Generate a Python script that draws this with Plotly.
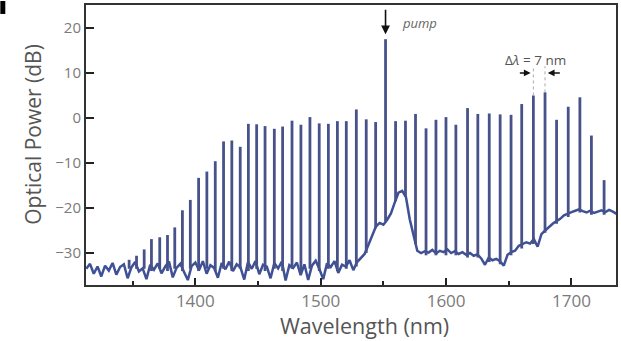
import plotly.graph_objects as go

# ---------------- data ----------------
# noisy background spectrum, sampled every 3 nm
base_wl = [1313, 1316, 1319, 1322, 1325, 1328, 1331, 1334, 1337, 1340,
           1343, 1346, 1349, 1352, 1355, 1358, 1361, 1364, 1367, 1370,
           1373, 1376, 1379, 1382, 1385, 1388, 1391, 1394, 1397, 1400,
           1403, 1406, 1409, 1412, 1415, 1418, 1421, 1424, 1427, 1430,
           1433, 1436, 1439, 1442, 1445, 1448, 1451, 1454, 1457, 1460,
           1463, 1466, 1469, 1472, 1475, 1478, 1481, 1484, 1487, 1490,
           1493, 1496, 1499, 1502, 1505, 1508, 1511, 1514, 1517, 1520,
           1523, 1526, 1529, 1532, 1535, 1538, 1541, 1544, 1547, 1550,
           1553, 1556, 1559, 1562, 1565, 1568, 1571, 1574, 1577, 1580,
           1583, 1586, 1589, 1592, 1595, 1598, 1601, 1604, 1607, 1610,
           1613, 1616, 1619, 1622, 1625, 1628, 1631, 1634, 1637, 1640,
           1643, 1646, 1649, 1652, 1655, 1658, 1661, 1664, 1667, 1670,
           1673, 1676, 1679, 1682, 1685, 1688, 1691, 1694, 1697, 1700,
           1703, 1706, 1709, 1712, 1715, 1718, 1721, 1724, 1727, 1730, 1733, 1736]
base_db = [-33.5, -32.4, -34.6, -33.0, -35.2, -32.8, -33.9, -32.2, -34.8, -33.1,
           -32.5, -35.6, -33.2, -32.0, -34.1, -33.4, -35.8, -32.6, -33.7, -32.3,
           -34.5, -33.0, -31.9, -35.4, -33.3, -32.4, -34.2, -36.0, -32.9, -32.1,
           -33.8, -31.8, -34.6, -32.7, -33.3, -35.5, -32.2, -33.6, -31.9, -34.0,
           -32.5, -33.2, -35.9, -32.0, -33.5, -31.8, -34.7, -32.6, -33.0, -35.6,
           -32.2, -33.4, -31.9, -36.1, -32.7, -33.3, -32.1, -34.9, -32.5, -36.0,
           -32.8, -31.7, -33.6, -35.8, -32.3, -33.1, -31.8, -34.4, -32.6, -33.0,
           -31.6, -33.8, -32.0, -31.2, -30.2, -28.2, -26.0, -24.1, -23.3, -23.7,
           -22.6, -21.2, -18.8, -16.6, -16.2, -17.6, -22.5, -25.8, -29.5, -30.0,
           -29.6, -29.9, -29.3, -30.1, -29.5, -29.8, -29.2, -30.0, -29.6, -30.2,
           -29.8, -30.4, -30.0, -30.6, -30.3, -31.2, -32.6, -31.0, -31.6, -31.3,
           -31.8, -32.8, -30.4, -29.8, -29.5, -28.4, -28.0, -27.6, -27.9, -26.9,
           -28.6, -25.8, -25.0, -24.2, -23.5, -22.9, -22.4, -21.6, -21.2, -20.9,
           -20.6, -20.3, -20.7, -21.0, -20.6, -21.1, -20.8, -20.5, -20.9, -20.4, -20.8, -21.3]

# comb lines: wavelength, peak power and foot level
comb_wl = [1347.2, 1353.1, 1359.2, 1365.0, 1371.6, 1377.8, 1383.6, 1389.7, 1396.0, 1402.6,
           1409.2, 1415.9, 1422.5, 1429.1, 1435.8, 1442.3, 1448.9, 1455.6, 1463.0, 1469.6,
           1477.1, 1484.2, 1491.4, 1498.8, 1506.1, 1513.3, 1520.4, 1528.4, 1536.3, 1543.8,
           1551.7, 1559.7, 1567.6, 1575.6, 1584.0, 1591.9, 1599.9, 1607.8, 1617.1, 1625.3,
           1634.4, 1643.1, 1651.8, 1660.3, 1669.6, 1678.9, 1688.1, 1697.4, 1706.7, 1715.9,
           1726.0]
comb_peak = [-31.5, -30.6, -29.2, -26.9, -26.5, -26.0, -24.3, -20.5, -18.2, -13.3,
             -11.9, -9.6, -5.2, -5.0, -6.4, -1.3, -1.4, -1.8, -2.4, -1.9,
             -0.6, -1.5, 0.2, -1.2, -1.3, -0.7, -0.7, 1.9, -0.3, -0.9,
             17.5, -0.7, -0.6, 0.9, -2.3, -0.4, 0.2, -1.5, 2.2, 0.9,
             1.0, 0.8, 0.7, 3.1, 5.0, 5.7, -0.4, 2.5, 4.6, -3.9,
             -13.8]
comb_base = [-33.5, -33.5, -33.5, -34.0, -33.5, -34.0, -33.5, -34.0, -33.5, -34.0,
             -33.5, -34.0, -33.5, -34.0, -33.5, -34.0, -33.5, -34.0, -33.5, -34.0,
             -33.5, -34.0, -33.5, -34.0, -33.5, -34.0, -33.5, -33.0, -30.0, -24.5,
             -23.0, -18.5, -17.5, -28.0, -30.5, -30.5, -30.5, -30.5, -31.0, -31.0,
             -32.0, -32.5, -30.5, -29.0, -28.0, -25.5, -23.5, -22.0, -21.0, -21.5,
             -21.5]

x_ticks = [1400, 1500, 1600, 1700]
x_minor = [1350, 1450, 1550, 1650]
y_ticks = [-30, -20, -10, 0, 10, 20]
PUMP = 30           # index of pump line
SPACING = (44, 45)  # indices of the lines marked with delta-lambda

COMB_COLOR = "#48528a"
BASE_COLOR = "#3e5196"

# ---------------- figure ----------------
fig = go.Figure()
fig.add_trace(go.Scatter(x=base_wl, y=base_db, mode="lines",
                         line=dict(color=BASE_COLOR, width=2.5), hoverinfo="skip"))

cx, cy = [], []
for w, p, b in zip(comb_wl, comb_peak, comb_base):
    cx += [w, w, None]
    cy += [b, p, None]
fig.add_trace(go.Scatter(x=cx, y=cy, mode="lines",
                         line=dict(color=COMB_COLOR, width=2.8), hoverinfo="skip"))

FONT = "Open Sans"
L, R, T, B = 86, 618, 4, 285
W, H = 621, 341


def px(xp):
    return (xp - L) / (R - L)


def py(yp):
    return (B - yp) / (B - T)


fig.update_layout(
    width=W, height=H,
    margin=dict(l=L, r=W - R, t=T, b=H - B),
    paper_bgcolor="white", plot_bgcolor="white",
    showlegend=False,
    font=dict(family=FONT, color="#777"),
)
fig.update_xaxes(range=[1312.8, 1735.5], tickvals=x_ticks,
                 ticks="inside", ticklen=7, tickwidth=2, tickcolor="#222",
                 minor=dict(tickvals=x_minor, ticks="inside", ticklen=4,
                            tickwidth=1.5, tickcolor="#222"),
                 showline=True, linewidth=2, linecolor="#333", mirror=True,
                 showgrid=False, zeroline=False,
                 tickfont=dict(size=17, color="#7a7a7a", family=FONT))
fig.update_yaxes(range=[-37.1, 25.1], tickvals=y_ticks,
                 ticks="inside", ticklen=8, tickwidth=2, tickcolor="#222",
                 showline=True, linewidth=2, linecolor="#333", mirror=True,
                 showgrid=False, zeroline=False,
                 tickfont=dict(size=15, color="#7a7a7a", family=FONT))

ann = []
# axis titles
ann.append(dict(text="Wavelength (nm)", xref="paper", yref="paper",
                x=px(366), y=py(325.5), xanchor="center", yanchor="middle",
                showarrow=False, font=dict(size=21.5, color="#555", family=FONT)))
ann.append(dict(text="Optical Power (dB)", xref="paper", yref="paper",
                x=px(32.5), y=py(133.5), xanchor="center", yanchor="middle",
                textangle=-90, showarrow=False,
                font=dict(size=21, color="#555", family=FONT)))
# pump arrow
pw = comb_wl[PUMP]
ann.append(dict(x=pw, y=18.6, ax=pw, ay=24.4, xref="x", yref="y",
                axref="x", ayref="y", text="", showarrow=True,
                arrowhead=2, arrowsize=1.1, arrowwidth=1.6, arrowcolor="#111"))
ann.append(dict(text="<i>pump</i>", x=1563.5, y=21.2, xref="x", yref="y",
                xanchor="left", yanchor="middle", showarrow=False,
                font=dict(size=13, color="#666", family=FONT)))
# delta lambda
w1, w2 = comb_wl[SPACING[0]], comb_wl[SPACING[1]]
ann.append(dict(text="\u0394<i>\u03bb</i> = 7 nm", x=(w1 + w2) / 2 - 3, y=12.9,
                xref="x", yref="y", xanchor="center", yanchor="middle",
                showarrow=False, font=dict(size=13.5, color="#555", family=FONT)))
ann.append(dict(x=w1 - 2.2, y=10.0, ax=w1 - 12, ay=10.0, xref="x", yref="y",
                axref="x", ayref="y", text="", showarrow=True,
                arrowhead=2, arrowsize=0.9, arrowwidth=1.5, arrowcolor="#111"))
ann.append(dict(x=w2 + 2.2, y=10.0, ax=w2 + 13, ay=10.0, xref="x", yref="y",
                axref="x", ayref="y", text="", showarrow=True,
                arrowhead=2, arrowsize=0.9, arrowwidth=1.5, arrowcolor="#111"))
fig.update_layout(annotations=ann)

shapes = []
for w, p in ((w1, comb_peak[SPACING[0]]), (w2, comb_peak[SPACING[1]])):
    shapes.append(dict(type="line", xref="x", yref="y", x0=w, x1=w,
                       y0=p, y1=11.5, line=dict(color="#aaa", width=1, dash="dot")))
# fragment of the panel letter at the top-left corner
shapes.append(dict(type="rect", xref="paper", yref="paper",
                   x0=px(0), x1=px(5), y0=py(13), y1=py(0),
                   fillcolor="black", line=dict(width=0)))
fig.update_layout(shapes=shapes)

fig.write_html("out.html",
               config={"displayModeBar": False},
               post_script="document.body.style.margin='0px';"
                           "document.body.style.overflow='hidden';")
